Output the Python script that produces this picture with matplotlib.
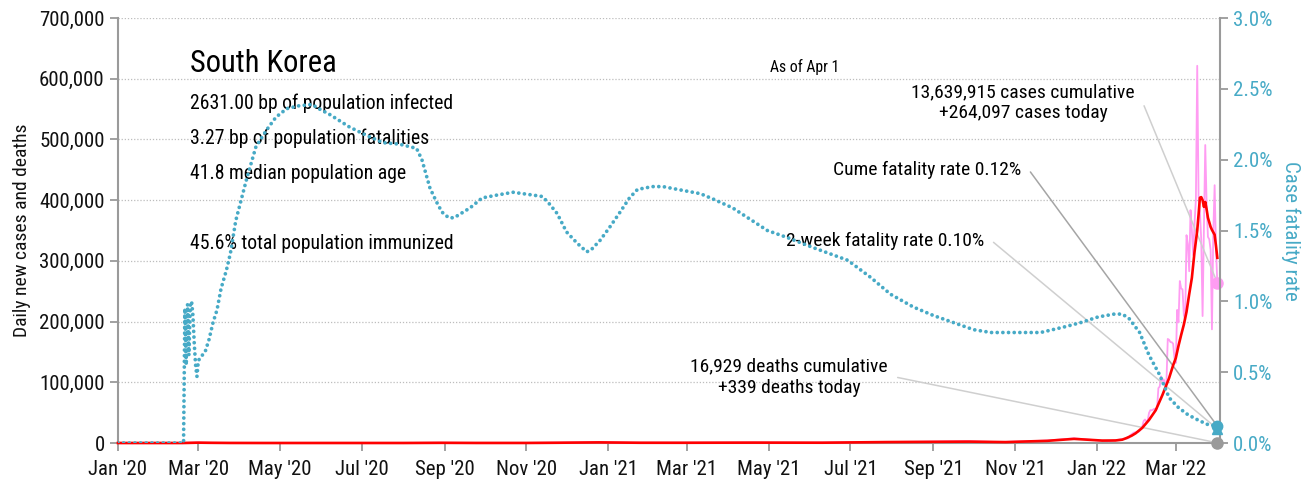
import pandas as pd
import matplotlib
matplotlib.use('Agg')
import matplotlib.pyplot as plt
import matplotlib.dates as mdates
from matplotlib import font_manager
from matplotlib.ticker import FuncFormatter, MultipleLocator

# fonte condensada, se houver
nomes = {f.name for f in font_manager.fontManager.ttflist}
familias = [n for n in ['Roboto Condensed', 'Liberation Sans Narrow', 'Open Sans Condensed',
                        'Liberation Sans', 'DejaVu Sans'] if n in nomes]
plt.rcParams['font.family'] = familias
plt.rcParams['font.stretch'] = 'condensed'

# casos diários (esparso até 2022, diário a partir de 20/jan/2022)
datas_casos = ['2020-01-01', '2020-02-18', '2020-02-29', '2020-03-03', '2020-03-10', '2020-03-20',
               '2020-04-10', '2020-05-10', '2020-06-15', '2020-08-01', '2020-08-27', '2020-09-20',
               '2020-11-01', '2020-11-25', '2020-12-25', '2021-01-20', '2021-02-20', '2021-04-20',
               '2021-06-01', '2021-07-25', '2021-08-20', '2021-09-25', '2021-10-20', '2021-11-25',
               '2021-12-15', '2022-01-01', '2022-01-10', '2022-01-15'] + \
              [d.strftime('%Y-%m-%d') for d in pd.date_range('2022-01-20', '2022-04-01')]
casos_diarios = [0, 0, 900, 600, 240, 120,
                 30, 30, 40, 30, 440, 80,
                 120, 580, 1240, 400, 450, 700,
                 500, 1600, 2100, 3200, 1500, 4000,
                 7800, 4400, 3000, 4500,
                 6600, 6800, 7000, 7600, 7500, 8600, 13000, 14500, 16100, 17500, 17500, 18300,
                 18000, 20000, 22900, 27400, 36300, 38700, 35300, 36700, 49500, 54100,
                 53900, 54900, 56400, 54600, 57100, 90400, 93100, 109800, 102200, 104800,
                 95300, 99500, 171400, 170000, 166200, 166000, 163500, 139600,
                 131700, 219200, 198800, 266800, 254300, 253200, 210700, 202700, 342400, 327500,
                 282900, 383600, 350100, 309700, 362300, 400700, 621300, 407000, 381400, 334700,
                 209100, 353900, 490800, 395500, 339500, 335500, 318100, 187200, 347500, 424600,
                 320700, 264097]

# média móvel de 7 dias
datas_media = ['2020-01-01', '2020-02-18', '2020-03-01', '2020-03-10', '2020-03-25', '2020-04-20',
               '2020-06-10', '2020-08-01', '2020-08-30', '2020-09-25', '2020-11-01', '2020-11-25',
               '2020-12-25', '2021-01-25', '2021-02-25', '2021-04-20', '2021-06-10', '2021-07-28',
               '2021-09-28', '2021-10-25', '2021-11-25', '2021-12-15', '2022-01-05', '2022-01-15',
               '2022-01-20', '2022-01-23', '2022-01-27', '2022-01-30', '2022-02-04', '2022-02-09',
               '2022-02-14', '2022-02-19', '2022-02-24', '2022-02-27', '2022-03-01', '2022-03-03',
               '2022-03-05', '2022-03-07', '2022-03-09', '2022-03-11', '2022-03-13', '2022-03-15',
               '2022-03-17', '2022-03-18', '2022-03-19', '2022-03-20', '2022-03-21', '2022-03-22',
               '2022-03-23', '2022-03-24', '2022-03-25', '2022-03-27', '2022-03-28', '2022-03-29',
               '2022-03-30', '2022-03-31', '2022-04-01']
media_7d = [0, 0, 600, 350, 100, 15,
            40, 30, 330, 90, 100, 450,
            1030, 420, 400, 650, 500, 1550,
            2300, 1500, 3600, 6800, 4000, 4200,
            5500, 8000, 12000, 16000, 25000, 38000,
            54000, 79000, 107000, 128000, 140000, 160000,
            178000, 195000, 216000, 245000, 272000, 315000,
            350000, 376000, 404000, 405000, 400000, 389000,
            397000, 385000, 371000, 356000, 351000, 347000,
            343000, 325000, 305000]

# taxa de letalidade acumulada (%)
datas_letal = ['2020-01-01', '2020-02-18', '2020-02-19', '2020-02-20', '2020-02-21', '2020-02-22',
               '2020-02-23', '2020-02-24', '2020-02-25', '2020-02-26', '2020-02-27', '2020-02-28',
               '2020-02-29', '2020-03-01', '2020-03-03', '2020-03-06', '2020-03-09', '2020-03-12',
               '2020-03-15', '2020-03-18', '2020-03-22', '2020-03-25', '2020-03-29', '2020-04-06',
               '2020-04-13', '2020-04-21', '2020-04-28', '2020-05-06', '2020-05-15', '2020-05-25',
               '2020-05-30', '2020-06-07', '2020-06-22', '2020-07-05', '2020-07-17', '2020-07-29',
               '2020-08-11', '2020-08-15', '2020-08-18', '2020-08-21', '2020-08-26', '2020-08-30',
               '2020-09-04', '2020-09-08', '2020-09-20', '2020-09-29', '2020-10-10', '2020-10-22',
               '2020-11-06', '2020-11-13', '2020-11-18', '2020-11-24', '2020-12-01', '2020-12-09',
               '2020-12-16', '2020-12-19', '2020-12-26', '2021-01-02', '2021-01-10', '2021-01-17',
               '2021-01-23', '2021-02-03', '2021-02-11', '2021-02-22', '2021-03-11', '2021-03-21',
               '2021-04-04', '2021-04-17', '2021-04-30', '2021-05-15', '2021-06-03', '2021-06-29',
               '2021-07-16', '2021-07-31', '2021-08-17', '2021-09-01', '2021-09-19', '2021-10-01',
               '2021-10-14', '2021-10-31', '2021-11-20', '2021-12-08', '2021-12-20', '2022-01-02',
               '2022-01-14', '2022-01-20', '2022-01-25', '2022-02-02', '2022-02-09', '2022-02-17',
               '2022-02-24', '2022-03-03', '2022-03-10', '2022-03-18', '2022-03-25', '2022-04-01']
letalidade = [0, 0, 0.0, 0.95, 0.55, 0.98,
              0.62, 0.97, 1.0, 0.9, 0.7, 0.55,
              0.47, 0.58, 0.61, 0.64, 0.73, 0.85,
              0.94, 1.09, 1.22, 1.34, 1.57, 1.86,
              2.09, 2.21, 2.30, 2.36, 2.38, 2.39,
              2.36, 2.32, 2.23, 2.17, 2.12, 2.11,
              2.08, 2.00, 1.90, 1.80, 1.70, 1.63,
              1.59, 1.59, 1.66, 1.73, 1.75, 1.77,
              1.75, 1.74, 1.69, 1.62, 1.49, 1.41,
              1.35, 1.36, 1.43, 1.52, 1.63, 1.73,
              1.79, 1.81, 1.81, 1.79, 1.76, 1.72,
              1.66, 1.58, 1.50, 1.45, 1.38, 1.29,
              1.17, 1.05, 0.96, 0.90, 0.84, 0.80,
              0.78, 0.78, 0.78, 0.82, 0.85, 0.89,
              0.91, 0.91, 0.88, 0.78, 0.62, 0.48,
              0.32, 0.25, 0.20, 0.16, 0.13, 0.12]

letal_2sem = 0.10
mortes_hoje = 339

cor_teal = '#47aac6'
cor_rosa = '#ff9cf2'
cor_eixo = '#9a9a9a'

dc = pd.to_datetime(datas_casos)
dm = pd.to_datetime(datas_media)
dl = pd.to_datetime(datas_letal)

fig = plt.figure(figsize=(13.09, 4.83), dpi=100)
ax = fig.add_axes([0.0901, 0.0828, 0.8419, 0.8799])
ax2 = ax.twinx()

ax.plot(dc, casos_diarios, color=cor_rosa, lw=1.3, zorder=3, clip_on=False)
ax.plot(dm, media_7d, color='#ff0000', lw=1.9, zorder=4, clip_on=False)
ax2.plot(dl, letalidade, color=cor_teal, lw=2.7, linestyle=(0, (0.01, 1.5)),
         dash_capstyle='round', zorder=3)

# marcadores do último dia
ax.plot(dc[-1], casos_diarios[-1], 'o', color=cor_rosa, ms=8, zorder=6, clip_on=False)
ax.plot(dc[-1], mortes_hoje, 'o', color=cor_eixo, ms=8, zorder=6, clip_on=False)
ax2.plot(dl[-1], letal_2sem, '^', color=cor_teal, ms=7, zorder=6, clip_on=False)
ax2.plot(dl[-1], letalidade[-1], 'o', color=cor_teal, ms=7.5, zorder=6, clip_on=False)

ax.set_xlim(pd.Timestamp('2020-01-01'), pd.Timestamp('2022-04-03'))
ax.set_ylim(0, 700000)
ax2.set_ylim(0, 3.0)

ax.yaxis.set_major_locator(MultipleLocator(100000))
ax.yaxis.set_major_formatter(FuncFormatter(lambda v, p: f'{int(v):,}'))
ax2.yaxis.set_major_locator(MultipleLocator(0.5))
ax2.yaxis.set_major_formatter(FuncFormatter(lambda v, p: f'{v:.1f}%'))
ax.xaxis.set_major_locator(mdates.MonthLocator(bymonth=[1, 3, 5, 7, 9, 11]))
ax.xaxis.set_major_formatter(mdates.DateFormatter("%b '%y"))

ax.grid(axis='y', color='#bdbdbd', linestyle=(0, (1, 1.5)), lw=0.9)
ax.set_axisbelow(True)

ax.spines['top'].set_visible(False)
ax.spines['right'].set_visible(False)
for s in ('top', 'left', 'bottom'):
    ax2.spines[s].set_visible(False)
for s in ('left', 'bottom'):
    ax.spines[s].set_color(cor_eixo)
    ax.spines[s].set_linewidth(1.5)
ax2.spines['right'].set_color(cor_eixo)
ax2.spines['right'].set_linewidth(1.5)

ax.tick_params(axis='both', colors=cor_eixo, labelcolor='#111111', labelsize=15, length=6, width=1.3)
ax.tick_params(axis='x', pad=6)
ax2.tick_params(axis='y', colors=cor_eixo, labelcolor=cor_teal, labelsize=15, length=6, width=1.3)

ax.set_ylabel('Daily new cases and deaths', fontsize=14, color='#111111', labelpad=6)
ax2.set_ylabel('Case fatality rate', fontsize=15, color=cor_teal, rotation=270, labelpad=20)

# bloco de texto
ax.text(0.0653, 0.894, 'South Korea', transform=ax.transAxes, fontsize=22, va='center')
info = [('2631.00 bp of population infected', 0.80),
        ('3.27 bp of population fatalities', 0.7176),
        ('41.8 median population age', 0.635),
        ('45.6% total population immunized', 0.4706)]
for txt, yy in info:
    ax.text(0.0653, yy, txt, transform=ax.transAxes, fontsize=14.2, va='center')
ax.text(0.5917, 0.885, 'As of Apr 1', transform=ax.transAxes, fontsize=11.3, va='center')

def chamada(texto, xt, yt, alvo, cor, ha='right'):
    ax.annotate(texto, xy=alvo, xycoords='data', xytext=(xt, yt), textcoords='axes fraction',
                ha=ha, va='center', fontsize=14, multialignment='center',
                arrowprops=dict(arrowstyle='-', color=cor, lw=1.1, shrinkA=5, shrinkB=0,
                                relpos=(1, 0.5),
                                connectionstyle='arc,angleA=0,armA=8,angleB=0,armB=0,rad=0'))

escala = 700000 / 3.0
chamada('13,639,915 cases cumulative\n+264,097 cases today', 0.9228, 0.8, (dc[-1], casos_diarios[-1]), '#cfcfcf')
chamada('Cume fatality rate 0.12%', 0.8194, 0.6424, (dl[-1], letalidade[-1] * escala), '#a5a5a5')
chamada('2-week fatality rate 0.10%', 0.7858, 0.4753, (dl[-1], letal_2sem * escala), '#cfcfcf')
chamada('16,929 deaths cumulative\n+339 deaths today', 0.6987, 0.155, (dc[-1], mortes_hoje), '#cfcfcf')

fig.savefig('out.png', dpi=100)
